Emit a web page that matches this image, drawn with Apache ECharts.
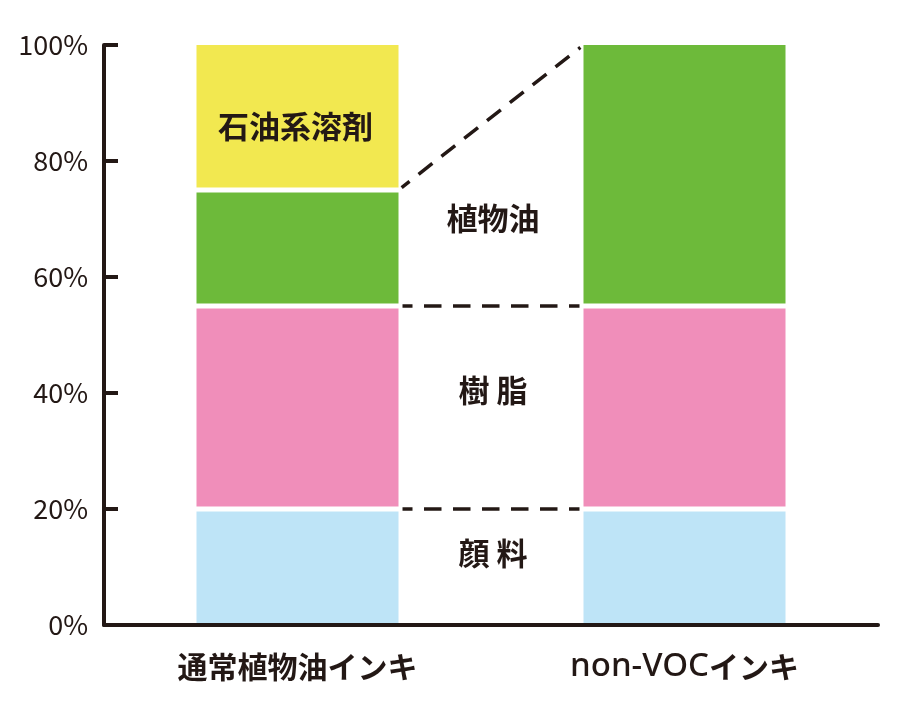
<!DOCTYPE html>
<html>
<head>
<meta charset="utf-8">
<script src="https://cdn.jsdelivr.net/npm/echarts@6/dist/echarts.min.js"></script>
<style>html,body{margin:0;padding:0;background:#fff}#c{width:909px;height:706px}</style>
</head>
<body>
<div id="c"></div>
<script>
// ---- data ----
const categories = ['通常植物油インキ', 'non-VOCインキ'];
const seriesNames = ['顔料', '樹脂', '植物油', '石油系溶剤'];
const pigment = [20, 20];
const resin = [35, 35];
const vegOil = [20, 45];
const petroSolvent = [25, 0];
const yTicks = [0, 20, 40, 60, 80, 100];
// connector dashed lines: [fromCategory, fromValue, toCategory, toValue]
const connectors = [[0, 75, 1, 100], [0, 55, 1, 55], [0, 20, 1, 20]];
// middle annotation labels: [text, value]
const midLabels = [['植物油', 70.2], ['樹 脂', 40.5], ['顔 料', 12.4]];

const ink = '#231815';
const colors = ['#BEE4F7', '#F08EBA', '#6DBA3A', '#F2E850'];
const font = '"Noto Sans CJK JP", "Noto Sans", sans-serif';
const barPct = 0.522;

// segment boundaries (white separators) derived from the stacked data
const stacks = [pigment, resin, vegOil, petroSolvent];
const boundaries = [];
categories.forEach((c, ci) => {
  let cum = 0;
  for (let s = 0; s < stacks.length - 1; s++) {
    cum += stacks[s][ci];
    const rest = stacks.slice(s + 1).reduce((a, arr) => a + arr[ci], 0);
    if (stacks[s][ci] > 0 && rest > 0) boundaries.push([ci, cum]);
  }
});

const chart = echarts.init(document.getElementById('c'), null, {renderer: 'canvas'});

function barSeries(name, data, idx, extra) {
  return Object.assign({
    name: name,
    type: 'bar',
    stack: 'total',
    data: data.map(v => v === 0 ? '-' : v),
    barWidth: (barPct * 100) + '%',
    itemStyle: {color: colors[idx]},
    silent: true
  }, extra || {});
}

// split category text into Latin and CJK runs for rich styling
function richLabel(s) {
  return s.replace(/([\x00-\x7F]+)|([^\x00-\x7F]+)/g, (m, lat, cjk) => lat ? '{lat|' + lat + '}' : '{cjk|' + cjk + '}');
}

const option = {
  animation: false,
  grid: {left: 104, right: 31, top: 45, bottom: 81, containLabel: false},
  xAxis: {
    type: 'category',
    data: categories,
    z: 10,
    axisLine: {lineStyle: {color: ink, width: 4}},
    axisTick: {show: false},
    axisLabel: {
      color: ink, margin: 22,
      formatter: v => richLabel(v),
      rich: {
        cjk: {fontFamily: font, fontSize: 30, fontWeight: 'bold', color: ink, height: 40},
        lat: {fontFamily: '"Noto Sans", "Open Sans", sans-serif', fontSize: 33, fontWeight: 500, color: ink, height: 40}
      }
    }
  },
  yAxis: {
    type: 'value',
    min: 0, max: 100, interval: 20,
    z: 10,
    axisLine: {show: true, lineStyle: {color: ink, width: 4}},
    axisTick: {show: true, inside: true, length: 14, lineStyle: {color: ink, width: 4}},
    splitLine: {show: false},
    axisLabel: {
      color: ink, fontFamily: font, fontSize: 27, margin: 16,
      formatter: v => yTicks.indexOf(v) >= 0 ? v + '%' : ''
    }
  },
  series: [
    barSeries(seriesNames[0], pigment, 0),
    barSeries(seriesNames[1], resin, 1),
    barSeries(seriesNames[2], vegOil, 2),
    barSeries(seriesNames[3], petroSolvent, 3, {
      label: {
        show: true, position: 'inside', offset: [-2, 9],
        formatter: '石油系溶剤',
        color: ink, fontFamily: font, fontSize: 31, fontWeight: 'bold'
      }
    }),
    {
      type: 'custom',
      silent: true,
      z: 3,
      data: boundaries,
      renderItem: function (params, api) {
        const p = api.coord([api.value(0), api.value(1)]);
        const w = api.size([1, 0])[0] * barPct + 4;
        return {
          type: 'rect',
          shape: {x: p[0] - w / 2, y: p[1] - 2.5, width: w, height: 5},
          style: {fill: '#ffffff'}
        };
      }
    },
    {
      type: 'custom',
      silent: true,
      data: connectors,
      renderItem: function (params, api) {
        const a = api.coord([api.value(0), api.value(1)]);
        const b = api.coord([api.value(2), api.value(3)]);
        const hw = api.size([1, 0])[0] * barPct / 2;
        const x0 = a[0] + hw, y0 = a[1];
        const x1 = b[0] - hw, y1 = b[1];
        const dx = x1 - x0, dy = y1 - y0, L = Math.sqrt(dx * dx + dy * dy);
        const pad = 4;
        const ux = dx / L, uy = dy / L;
        return {
          type: 'line',
          shape: {x1: x0 + ux * pad, y1: y0 + uy * pad, x2: x1 - ux * pad, y2: y1 - uy * pad},
          style: {stroke: ink, lineWidth: 3.5, lineDash: [17.5, 11.5], lineDashOffset: 7.5, fill: null}
        };
      }
    },
    {
      type: 'custom',
      silent: true,
      data: midLabels.map(d => [d[1]]),
      renderItem: function (params, api) {
        const v = api.value(0);
        const a = api.coord([0, v]);
        const b = api.coord([1, v]);
        return {
          type: 'text',
          style: {
            x: (a[0] + b[0]) / 2 + 2, y: a[1],
            text: midLabels[params.dataIndex][0],
            textAlign: 'center', textVerticalAlign: 'middle',
            fill: ink, font: 'bold 31px ' + font
          }
        };
      }
    }
  ]
};
chart.setOption(option);
</script>
</body>
</html>
